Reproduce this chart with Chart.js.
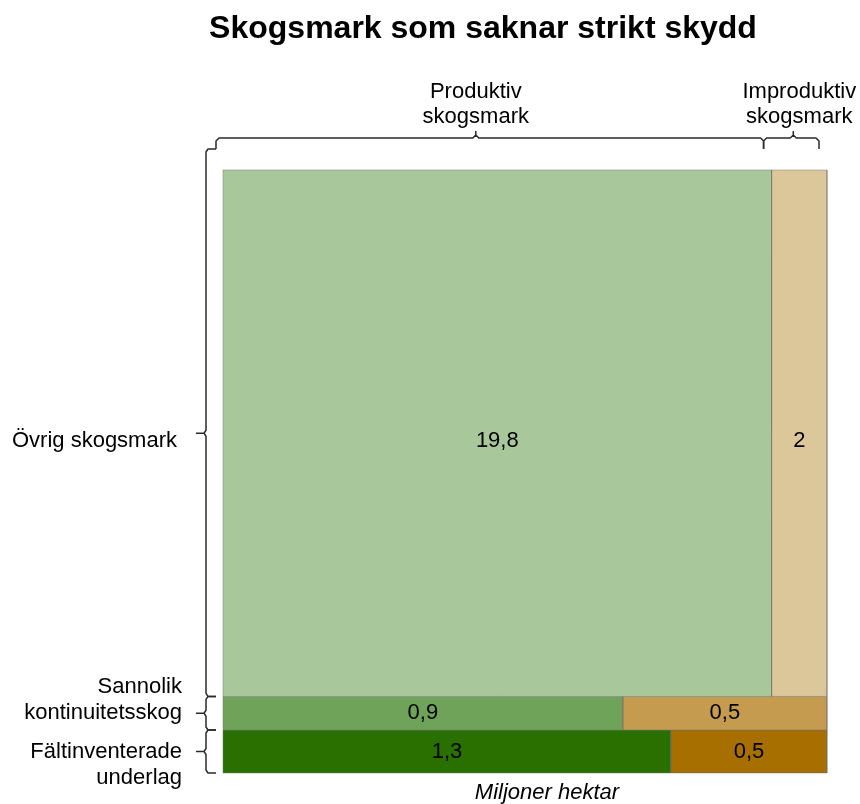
<!DOCTYPE html>
<html>
<head>
<meta charset="utf-8">
<script src="https://cdn.jsdelivr.net/npm/chart.js@4/dist/chart.umd.min.js"></script>
<style>
  html, body { margin: 0; padding: 0; background: #ffffff; }
  #wrap { width: 860px; height: 804px; }
</style>
</head>
<body>
<div id="wrap"><canvas id="c" width="860" height="804"></canvas></div>
<script>
// ---- data ----
const chartTitle = 'Skogsmark som saknar strikt skydd';
const rowLabels = [['Övrig skogsmark'], ['Sannolik', 'kontinuitetsskog'], ['Fältinventerade', 'underlag']];
const columnLabels = [['Produktiv', 'skogsmark'], ['Improduktiv', 'skogsmark']];
const produktiv = [19.8, 0.92, 1.32];
const improduktiv = [2.0, 0.47, 0.46];
const axisTitle = 'Miljoner hektar';

// ---- style ----
const prodColors = ['#a8c89b', '#70a35a', '#2a7000'];
const improdColors = ['#dcc79b', '#c49b4f', '#a66f00'];
const FONT = '"Liberation Sans", Arial, sans-serif';
const rowLabelFirstDy = [8, -26, 0];
const rowLabelRight = [177, 182, 182];
const valueLabelDy = [8, 0, 0];
const colTickDx = [-14, 2];
const colTextDx = [-14, 8];

const rowTotals = produktiv.map((v, i) => v + improduktiv[i]);
const grandTotal = rowTotals.reduce((a, b) => a + b, 0);
const rowStarts = [];
{ let acc = 0; rowTotals.forEach(t => { rowStarts.push(acc); acc += t; }); }

function rect(x0, x1, y0, y1) {
  return [{x: x0, y: y0}, {x: x1, y: y0}, {x: x1, y: y1}, {x: x0, y: y1}, {x: x0, y: y0}];
}

const datasets = [];
const cells = [];
rowTotals.forEach((tot, r) => {
  const y0 = rowStarts[r], y1 = rowStarts[r] + tot;
  const f = produktiv[r] / tot;
  cells.push({r, value: produktiv[r], x0: 0, x1: f, y0, y1});
  cells.push({r, value: improduktiv[r], x0: f, x1: 1, y0, y1});
  datasets.push({data: rect(0, f, y0, y1), backgroundColor: prodColors[r]});
  datasets.push({data: rect(f, 1, y0, y1), backgroundColor: improdColors[r]});
});
datasets.forEach(d => Object.assign(d, {
  fill: 'shape', borderColor: 'rgba(110,110,110,0.45)', borderWidth: 1,
  pointRadius: 0, pointHoverRadius: 0, tension: 0, clip: 3
}));

function fmt(v) {
  const s = (Math.round(v * 10) / 10).toString();
  return s.replace('.', ',');
}

const decor = {
  id: 'decor',
  afterDatasetsDraw(chart) {
    const ctx = chart.ctx;
    const xs = chart.scales.x, ys = chart.scales.y;
    const area = chart.chartArea;
    ctx.save();
    ctx.fillStyle = '#000';
    ctx.textAlign = 'center';
    ctx.textBaseline = 'middle';

    // title
    ctx.font = 'bold 32px ' + FONT;
    ctx.fillText(chartTitle, 483, 29);

    // value labels
    ctx.font = '22px ' + FONT;
    cells.forEach(c => {
      const cx = (xs.getPixelForValue(c.x0) + xs.getPixelForValue(c.x1)) / 2;
      const cy = (ys.getPixelForValue(c.y0) + ys.getPixelForValue(c.y1)) / 2 + valueLabelDy[c.r];
      ctx.fillText(fmt(c.value), cx, cy);
    });

    ctx.strokeStyle = '#2a2a2a';
    ctx.lineWidth = 1.5;
    ctx.lineJoin = 'round';

    // top braces
    const topY = 138, endY = 149;
    const f0 = produktiv[0] / rowTotals[0];
    const bounds = [area.left - 7, xs.getPixelForValue(f0) - 8, area.right - 8];
    for (let c = 0; c < 2; c++) {
      const x0 = bounds[c], x1 = bounds[c + 1];
      const xm = (x0 + x1) / 2 + colTickDx[c];
      ctx.beginPath();
      ctx.moveTo(x0, endY); ctx.lineTo(x0, topY + 3); ctx.lineTo(x0 + 3, topY);
      ctx.lineTo(xm - 3, topY); ctx.lineTo(xm, topY - 3); ctx.lineTo(xm, topY - 7);
      ctx.moveTo(xm, topY - 3); ctx.lineTo(xm + 3, topY);
      ctx.lineTo(x1 - 3, topY); ctx.lineTo(x1, topY + 3); ctx.lineTo(x1, endY);
      ctx.stroke();
      ctx.font = '22px ' + FONT;
      const xt = (x0 + x1) / 2 + colTextDx[c];
      columnLabels[c].forEach((t, i) => ctx.fillText(t, xt, 92 + i * 25));
    }

    // row braces
    const bx = area.left - 17;
    rowTotals.forEach((tot, r) => {
      const y0 = r === 0 ? endY : ys.getPixelForValue(rowStarts[r]);
      const y1 = ys.getPixelForValue(rowStarts[r] + tot);
      const ym = (ys.getPixelForValue(rowStarts[r]) + y1) / 2;
      ctx.beginPath();
      ctx.moveTo(bx + 10, y0); ctx.lineTo(bx + 2, y0); ctx.lineTo(bx, y0 + 3);
      ctx.lineTo(bx, ym - 3); ctx.lineTo(bx - 2, ym); ctx.lineTo(bx - 10, ym);
      ctx.moveTo(bx - 2, ym); ctx.lineTo(bx, ym + 3);
      ctx.lineTo(bx, y1 - 3); ctx.lineTo(bx + 2, y1); ctx.lineTo(bx + 10, y1);
      ctx.stroke();
      ctx.textAlign = 'right';
      rowLabels[r].forEach((t, i) => ctx.fillText(t, rowLabelRight[r], ym + rowLabelFirstDy[r] + i * 26));
      ctx.textAlign = 'center';
    });

    // axis title
    ctx.font = 'italic 22px ' + FONT;
    ctx.fillText(axisTitle, 547, 793);
    ctx.restore();
  }
};

new Chart(document.getElementById('c'), {
  type: 'line',
  data: { datasets },
  options: {
    responsive: false,
    animation: false,
    events: [],
    layout: { padding: { left: 223, right: 33, top: 170, bottom: 31 } },
    scales: {
      x: { type: 'linear', min: 0, max: 1, display: false },
      y: { type: 'linear', min: 0, max: grandTotal, reverse: true, display: false }
    },
    plugins: { legend: { display: false }, tooltip: { enabled: false }, title: { display: false } }
  },
  plugins: [decor]
});
</script>
</body>
</html>
